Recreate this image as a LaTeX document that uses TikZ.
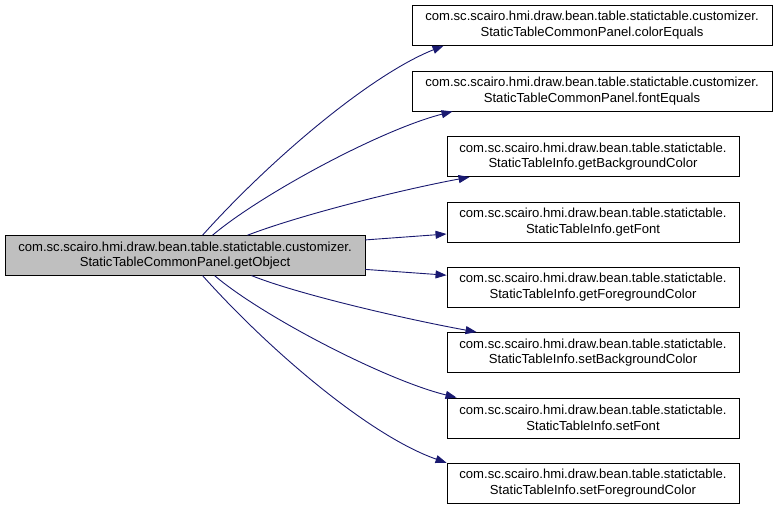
\documentclass[tikz,border=0pt]{standalone}
\usepackage{fontspec}
\setmainfont{Liberation Sans}
\usetikzlibrary{arrows.meta}
\definecolor{edgecol}{HTML}{191970}
\definecolor{mainfill}{HTML}{BFBFBF}
\begin{document}
\begin{tikzpicture}[x=1pt,y=-1pt,
  box/.style={draw=black, line width=0.9pt, fill=white, align=center, inner sep=0pt,
    minimum height=40pt, font=\fontsize{13.1}{15.5}\selectfont},
  wide/.style={box, minimum width=360pt},
  narrow/.style={box, minimum width=292pt},
  mainbox/.style={wide, fill=mainfill, minimum height=39.5pt},
  edge/.style={draw=edgecol, line width=0.9pt, -{Triangle[length=11pt,width=8pt]}}]
\useasboundingbox (0,0) rectangle (779,509);
\node[mainbox] (m) at (185,255.4) {com.sc.scairo.hmi.draw.bean.table.statictable.customizer.\\StaticTableCommonPanel.getObject};
\node[wide] (b1) at (592,25.3) {com.sc.scairo.hmi.draw.bean.table.statictable.customizer.\\StaticTableCommonPanel.colorEquals};
\node[wide] (b2) at (592,91) {com.sc.scairo.hmi.draw.bean.table.statictable.customizer.\\StaticTableCommonPanel.fontEquals};
\node[narrow] (b3) at (593,156.6) {com.sc.scairo.hmi.draw.bean.table.statictable.\\StaticTableInfo.getBackgroundColor};
\node[narrow] (b4) at (593,222) {com.sc.scairo.hmi.draw.bean.table.statictable.\\StaticTableInfo.getFont};
\node[narrow] (b5) at (593,287.2) {com.sc.scairo.hmi.draw.bean.table.statictable.\\StaticTableInfo.getForegroundColor};
\node[narrow] (b6) at (593,352.5) {com.sc.scairo.hmi.draw.bean.table.statictable.\\StaticTableInfo.setBackgroundColor};
\node[narrow] (b7) at (593,418) {com.sc.scairo.hmi.draw.bean.table.statictable.\\StaticTableInfo.setFont};
\node[narrow] (b8) at (593,483.2) {com.sc.scairo.hmi.draw.bean.table.statictable.\\StaticTableInfo.setForegroundColor};
\draw[edge] ([xshift=198pt]m.north west) .. controls (270,160) and (370,75) .. ([xshift=32pt]b1.south west);
\draw[edge] ([xshift=208pt]m.north west) .. controls (260,195) and (380,130) .. ([xshift=41pt]b2.south west);
\draw[edge] ([xshift=243pt]m.north west) .. controls (300,215) and (400,190) .. ([xshift=23pt]b3.south west);
\draw[edge] ([yshift=15.5pt]m.east) -- ([yshift=-12pt]b4.west);
\draw[edge] ([yshift=-14pt]m.east) -- ([yshift=12pt]b5.west);
\draw[edge] ([xshift=247pt]m.south west) .. controls (300,295) and (410,320) .. ([xshift=30pt]b6.north west);
\draw[edge] ([xshift=210pt]m.south west) .. controls (262,316) and (385,380) .. ([xshift=10pt]b7.north west);
\draw[edge] ([xshift=198pt]m.south west) .. controls (270,351) and (370,436) .. ([xshift=0pt]b8.north west);
\end{tikzpicture}
\end{document}
